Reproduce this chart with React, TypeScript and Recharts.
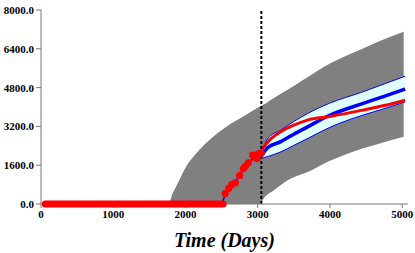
import React from 'react';
import {
  ComposedChart,
  Area,
  Line,
  Scatter,
  XAxis,
  YAxis,
  ReferenceLine,
} from 'recharts';

// uncertainty envelope (gray)
const envDays = [0, 1760, 1820, 1910, 2000, 2150, 2330, 2560, 2800, 3050, 3070, 3230, 3420, 3580, 3650, 4000, 4450, 4690, 5020];
const envLow = [0, 0, 0, 0, 0, 0, 0, 0, 0, 0, 165, 576, 990, 1200, 1270, 1780, 2290, 2500, 2770];
const envHigh = [0, 0, 420, 960, 1500, 2090, 2640, 3180, 3610, 4050, 4080, 4380, 4720, 5020, 5150, 5790, 6400, 6720, 7100];

// forecast band (cyan) + its mean
const bandDays = [3050, 3140, 3320, 3500, 3690, 3990, 4450, 4750, 5040];
const bandLow = [1880, 1960, 2150, 2420, 2700, 3150, 3660, 3930, 4210];
const bandHigh = [2080, 2700, 3050, 3400, 3730, 4150, 4620, 4950, 5270];
const bandMean = [1980, 2330, 2570, 2880, 3180, 3650, 4140, 4440, 4740];

// truth forecast (red line)
const truthDays = [3050, 3140, 3320, 3500, 3690, 4000, 4450, 4750, 5040];
const truthVals = [2200, 2560, 2980, 3250, 3460, 3610, 3870, 4060, 4280];

// simulated history (thin blue)
const simDays = [2490, 2520, 2560, 2650, 2750, 2850, 2950, 3050];
const simVals = [0, 150, 420, 800, 1180, 1620, 1950, 2000];

// observed points (red dots)
const obsZeroDays = Array.from({ length: 83 }, (_, i) => 60 + i * 30);
const obsDays = [2550, 2600, 2640, 2690, 2750, 2800, 2830, 2870, 2930, 2960, 2990, 3010, 3050];
const obsVals = [430, 650, 800, 880, 1180, 1450, 1560, 1700, 2020, 1920, 1880, 2070, 2100];

const xTicks = [0, 1000, 2000, 3000, 4000, 5000];
const yTicks = [0, 1600, 3200, 4800, 6400, 8000];
const splitDay = 3050;

const envData = envDays.map((d, i) => ({ day: d, range: [envLow[i], envHigh[i]] }));
const bandData = bandDays.map((d, i) => ({ day: d, range: [bandLow[i], bandHigh[i]], mean: bandMean[i] }));
const truthData = truthDays.map((d, i) => ({ day: d, v: truthVals[i] }));
const simData = simDays.map((d, i) => ({ day: d, v: simVals[i] }));
const obsData = [
  ...obsZeroDays.map((d) => ({ day: d, v: 0 })),
  ...obsDays.map((d, i) => ({ day: d, v: obsVals[i] })),
];

const tickStyle = { fontFamily: '"Liberation Serif", "Times New Roman", serif', fontWeight: 'bold', fontSize: 11, fill: '#000' };

export default function App() {
  return (
    <div style={{ position: 'absolute', left: 0, top: 0, background: '#fff' }}>
      <ComposedChart width={415} height={253} margin={{ top: 10, right: 7, bottom: 0, left: 0 }}>
        <XAxis
          dataKey="day"
          type="number"
          domain={[0, 5080]}
          ticks={xTicks}
          allowDataOverflow
          height={49}
          tickSize={4}
          stroke="#777"
          tick={tickStyle}
          label={{
            value: 'Time (Days)',
            position: 'insideBottom',
            offset: 6,
            style: { fontFamily: '"Liberation Serif", "Times New Roman", serif', fontWeight: 'bold', fontStyle: 'italic', fontSize: 20, fill: '#000' },
          }}
        />
        <YAxis
          type="number"
          domain={[0, 8000]}
          ticks={yTicks}
          width={41}
          tickSize={5}
          stroke="#777"
          tick={tickStyle}
          tickFormatter={(v) => v.toFixed(1)}
        />
        <Area data={envData} dataKey="range" type="monotone" fill="#808080" fillOpacity={1} stroke="none" isAnimationActive={false} />
        <Area data={bandData} dataKey="range" type="monotone" fill="#E0FFFF" fillOpacity={1} stroke="#0000FF" strokeWidth={1} isAnimationActive={false} />
        <Line data={bandData} dataKey="mean" type="monotone" stroke="#0000FF" strokeWidth={3.5} dot={false} isAnimationActive={false} />
        <Line data={truthData} dataKey="v" type="monotone" stroke="#FF0000" strokeWidth={3} dot={false} isAnimationActive={false} />
        <Line data={simData} dataKey="v" type="linear" stroke="#0000FF" strokeWidth={1.5} dot={false} isAnimationActive={false} />
        <Scatter
          data={obsData}
          dataKey="v"
          fill="#FF0000"
          shape={(p: any) => <circle cx={p.cx} cy={p.cy} r={3.6} fill="#FF0000" />}
          isAnimationActive={false}
        />
        <ReferenceLine x={splitDay} stroke="#000" strokeWidth={2} strokeDasharray="3 2" />
      </ComposedChart>
    </div>
  );
}
